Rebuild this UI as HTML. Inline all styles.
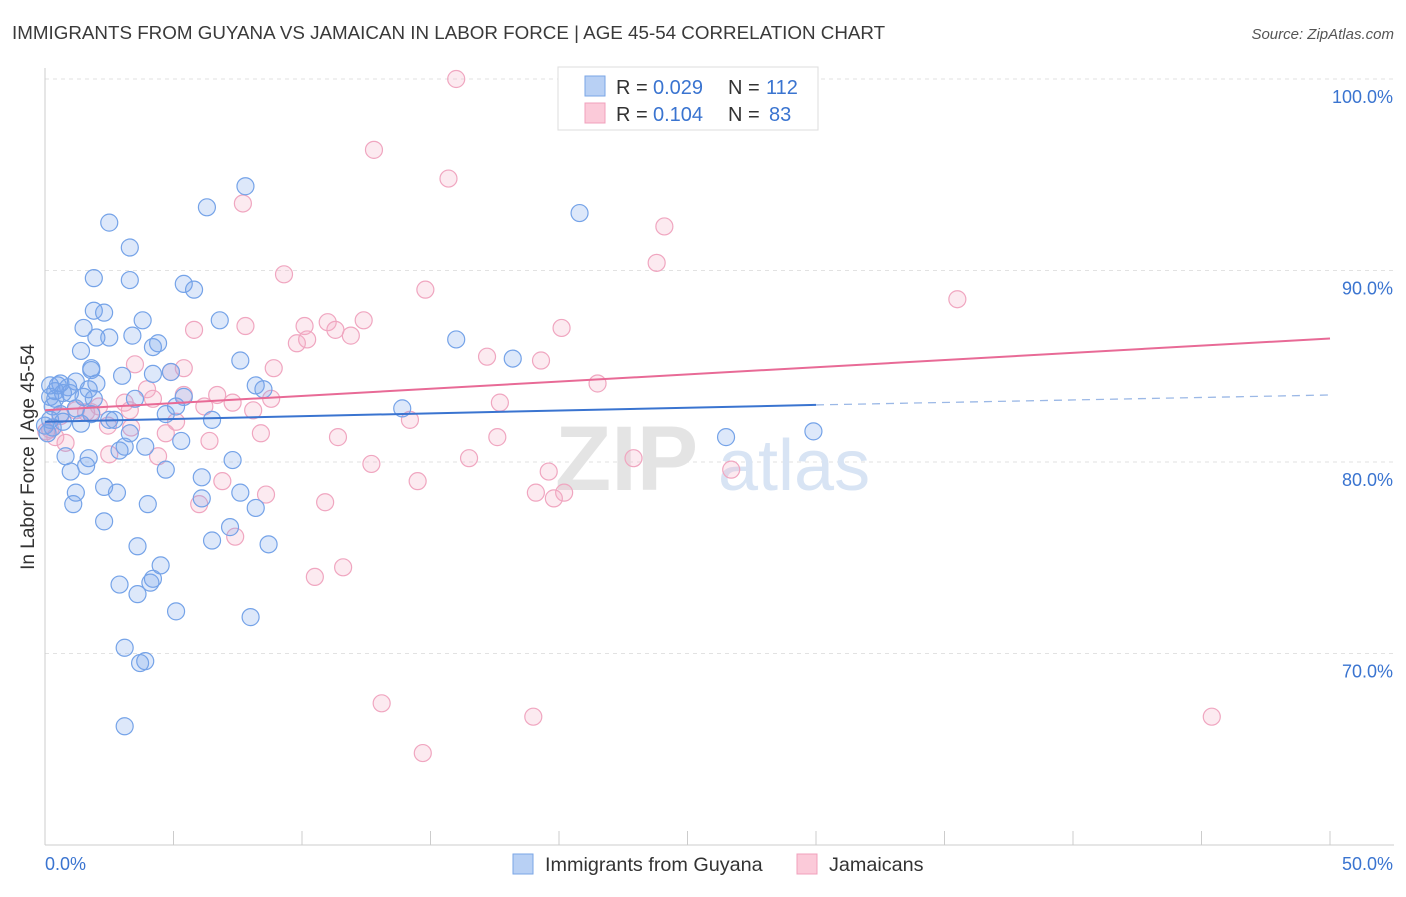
<!DOCTYPE html>
<html><head><meta charset="utf-8"><style>
body{margin:0;background:#fff;font-family:"Liberation Sans",sans-serif}
svg text{font-family:"Liberation Sans",sans-serif}
</style></head><body>
<svg id="chart" width="1406" height="892">
<text x="12" y="39" font-size="18.8" fill="#3a3a3a">IMMIGRANTS FROM GUYANA VS JAMAICAN IN LABOR FORCE | AGE 45-54 CORRELATION CHART</text>
<text x="1394" y="39" font-size="15" fill="#555" text-anchor="end" font-style="italic">Source: ZipAtlas.com</text>
<g id="grid"></g>
<g id="wm">
<text x="555" y="490" font-size="92" fill="#e4e4e4" font-family="Liberation Serif" font-weight="bold">ZIP</text>
<text x="718" y="490" font-size="72" fill="#d8e4f4">atlas</text>
</g>
<g id="pts"></g>
<g id="lines"></g>
<text transform="translate(34,457) rotate(-90)" font-size="19" fill="#333" text-anchor="middle">In Labor Force | Age 45-54</text>
<g>
<rect x="558" y="67" width="260" height="63" fill="#fff" stroke="#ddd"/>
<rect x="585" y="76" width="20" height="20" fill="#b8d0f4" stroke="#7aa6e6"/>
<text x="616" y="94" font-size="20" fill="#333">R =</text>
<text x="653" y="94" font-size="20" fill="#3a74d0">0.029</text>
<text x="728" y="94" font-size="20" fill="#333">N =</text>
<text x="766" y="94" font-size="20" fill="#3a74d0">112</text>
<rect x="585" y="103" width="20" height="20" fill="#fbcad9" stroke="#f0a0bc"/>
<text x="616" y="121" font-size="20" fill="#333">R =</text>
<text x="653" y="121" font-size="20" fill="#3a74d0">0.104</text>
<text x="728" y="121" font-size="20" fill="#333">N =</text>
<text x="769" y="121" font-size="20" fill="#3a74d0">83</text>
</g>
<g>
<rect x="513" y="854" width="20" height="20" fill="#b8d0f4" stroke="#7aa6e6"/>
<text x="545" y="871" font-size="19.8" fill="#333">Immigrants from Guyana</text>
<rect x="797" y="854" width="20" height="20" fill="#fbcad9" stroke="#f0a0bc"/>
<text x="829" y="871" font-size="19.8" fill="#333">Jamaicans</text>
</g>
</svg>
<script>
const blueX=[7.8,2.5,6.3,20.8,3.3,1.9,3.3,5.4,5.8,1.9,2.3,3.8,1.5,6.8,2.0,2.5,3.4,4.4,4.2,1.4,16.0,18.2,7.6,1.8,1.8,3.0,4.2,4.9,8.2,8.5,0.6,0.9,1.2,2.0,0.4,0.7,0.97,1.7,0.2,0.4,1.5,1.9,3.5,5.4,5.1,13.9,0.3,0.6,1.2,1.8,2.5,2.7,4.7,6.5,0.2,0.7,1.4,3.3,5.3,3.1,2.9,3.9,0.8,1.7,1.6,7.3,4.7,1.0,6.1,2.3,2.8,1.2,7.6,6.1,4.0,1.1,8.2,2.3,7.2,6.5,8.7,3.6,4.5,4.2,4.1,2.9,3.6,5.1,8.0,3.1,3.9,3.7,3.1,26.5,29.9,0.1,0,0.3,0.5,0.2];
const blueY=[94.4,92.5,93.3,93.0,91.2,89.6,89.5,89.3,89.0,87.9,87.8,87.4,87.0,87.4,86.5,86.5,86.6,86.2,86.0,85.8,86.4,85.4,85.3,84.9,84.8,84.5,84.6,84.7,84.0,83.8,84.1,83.9,84.2,84.1,83.7,83.6,83.6,83.8,83.4,83.3,83.4,83.3,83.3,83.4,82.9,82.8,82.9,82.5,82.8,82.5,82.2,82.2,82.5,82.2,82.2,82.1,82.0,81.5,81.1,80.8,80.6,80.8,80.3,80.2,79.8,80.1,79.6,79.5,79.2,78.7,78.4,78.4,78.4,78.1,77.8,77.8,77.6,76.9,76.6,75.9,75.7,75.6,74.6,73.9,73.7,73.6,73.1,72.2,71.9,70.3,69.6,69.5,66.2,81.3,81.6,81.5,81.9,81.8,84.0,84.0];
const pinkX=[16.0,27.5,12.8,15.7,7.7,24.1,23.8,9.3,14.8,35.5,5.8,7.8,10.1,11.0,12.4,20.1,11.3,11.9,9.8,10.2,17.2,19.3,3.5,5.4,4.9,8.9,21.5,3.97,4.2,5.4,6.7,7.3,17.7,3.1,2.1,1.8,1.6,1.2,0.6,3.3,6.2,8.1,8.8,14.2,5.1,2.45,3.35,4.7,8.4,11.4,17.6,6.4,0.4,0.8,2.5,4.4,22.9,16.5,12.7,19.6,26.7,14.5,6.9,8.6,19.1,20.2,19.8,10.9,6.0,7.4,11.6,10.5,13.1,19.0,14.7,45.4,0.2,0.05];
const pinkY=[100.0,99.8,96.3,94.8,93.5,92.3,90.4,89.8,89.0,88.5,86.9,87.1,87.1,87.3,87.4,87.0,86.9,86.6,86.2,86.4,85.5,85.3,85.1,84.9,84.7,84.9,84.1,83.8,83.3,83.5,83.5,83.1,83.1,83.1,82.9,82.6,82.6,82.7,82.4,82.7,82.9,82.7,83.3,82.2,82.1,81.9,81.8,81.5,81.5,81.3,81.3,81.1,81.3,81.0,80.4,80.3,80.2,80.2,79.9,79.5,79.6,79.0,79.0,78.3,78.4,78.4,78.1,77.9,77.8,76.1,74.5,74.0,67.4,66.7,64.8,66.7,81.7,81.6];
const blueLine=[82.1,82.98,83.5];
const pinkLine=[82.7,86.45];
const yTicks=[100,90,80,70];
const xTicksLbl=["0.0%","50.0%"];
const sx=v=>45+v*25.7, sy=v=>79+(100-v)*19.15;
const NS="http://www.w3.org/2000/svg";
function mk(t,a,p){const e=document.createElementNS(NS,t);for(const k in a)e.setAttribute(k,a[k]);p.appendChild(e);return e;}
const grid=document.getElementById('grid');
yTicks.forEach(v=>{
 const l=mk('line',{x1:45,x2:1394,y1:sy(v),y2:sy(v),stroke:'#e2e2e2','stroke-dasharray':'4,4'},grid);
 
 
 const t=mk('text',{x:1393,y:sy(v)+24,'font-size':18,fill:'#3a74d0','text-anchor':'end'},grid);t.textContent=v.toFixed(1)+'%';
 
 
});
mk('line',{x1:45,x2:45,y1:68,y2:845,stroke:'#ccc'},grid);
mk('line',{x1:45,x2:1394,y1:845,y2:845,stroke:'#ccc'},grid);
for(let i=0;i<=10;i++){const x=sx(i*5);mk('line',{x1:x,x2:x,y1:831,y2:845,stroke:'#ccc'},grid);}
const tl=mk('text',{x:45,y:870,'font-size':18,fill:'#3a74d0'},grid);tl.textContent=xTicksLbl[0];


const tr=mk('text',{x:1393,y:870,'font-size':18,fill:'#3a74d0','text-anchor':'end'},grid);tr.textContent=xTicksLbl[1];


const pts=document.getElementById('pts');
pinkX.forEach((x,i)=>{const c=mk('circle',{cx:sx(x),cy:sy(pinkY[i]),r:8.5,fill:'rgba(245,170,195,0.25)',stroke:'#f0a6c0','stroke-width':1.2},pts);
 
 });
blueX.forEach((x,i)=>{const c=mk('circle',{cx:sx(x),cy:sy(blueY[i]),r:8.5,fill:'rgba(120,165,235,0.25)',stroke:'#75a3e8','stroke-width':1.2},pts);
 
 });
const ln=document.getElementById('lines');
const b1=mk('line',{x1:sx(0),y1:sy(blueLine[0]),x2:sx(30),y2:sy(blueLine[1]),stroke:'#3a74d0','stroke-width':2},ln);


const b2=mk('line',{x1:sx(30),y1:sy(blueLine[1]),x2:sx(50),y2:sy(blueLine[2]),stroke:'#9bb8e6','stroke-width':1.3,'stroke-dasharray':'8,6'},ln);


const p1=mk('line',{x1:sx(0),y1:sy(pinkLine[0]),x2:sx(50),y2:sy(pinkLine[1]),stroke:'#e86a96','stroke-width':2},ln);


</script>
</body></html>
